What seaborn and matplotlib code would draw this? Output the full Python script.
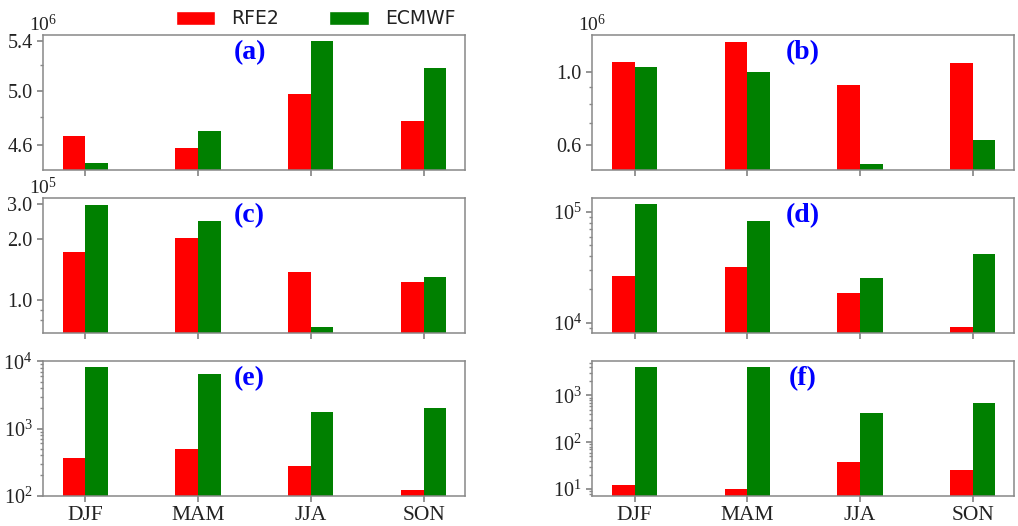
import numpy as np
import pandas as pd
import seaborn as sns
import matplotlib.pyplot as plt
from matplotlib.patches import Patch
from matplotlib.ticker import NullFormatter

# seasons and the two products
seasons = ["DJF", "MAM", "JJA", "SON"]
sources = ["RFE2", "ECMWF"]

# values
rfe2_a = [4.666e6, 4.577e6, 4.977e6, 4.776e6]
ecmwf_a = [4.473e6, 4.702e6, 5.400e6, 5.175e6]
rfe2_b = [1.073e6, 1.237e6, 0.912e6, 1.064e6]
ecmwf_b = [1.039e6, 1.004e6, 0.529e6, 0.624e6]
rfe2_c = [1.743e5, 2.03e5, 1.38e5, 1.227e5]
ecmwf_c = [2.97e5, 2.46e5, 0.74e5, 1.31e5]
rfe2_d = [2.63e4, 3.16e4, 1.86e4, 0.915e4]
ecmwf_d = [1.187e5, 0.835e5, 2.56e4, 4.16e4]
rfe2_e = [361, 503, 275, 123]
ecmwf_e = [8340, 6420, 1750, 2050]
rfe2_f = [12.1, 10.0, 38.5, 25.2]
ecmwf_f = [3960, 4100, 430, 700]

panels = [
    # label, rfe2, ecmwf, ylim, major ticks, tick labels, minor ticks, offset text
    ("(a)", rfe2_a, ecmwf_a, (4.43e6, 5.45e6), [4.6e6, 5.0e6, 5.4e6], ["4.6", "5.0", "5.4"], [4.8e6, 5.2e6], "6"),
    ("(b)", rfe2_b, ecmwf_b, (0.507e6, 1.30e6), [0.6e6, 1.0e6], ["0.6", "1.0"], [0.7e6, 0.8e6, 0.9e6], "6"),
    ("(c)", rfe2_c, ecmwf_c, (0.694e5, 3.21e5), [1e5, 2e5, 3e5], ["1.0", "2.0", "3.0"], [0.8e5, 0.9e5], "5"),
    ("(d)", rfe2_d, ecmwf_d, (0.813e4, 1.345e5), None, None, None, None),
    ("(e)", rfe2_e, ecmwf_e, (1e2, 1.02e4), None, None, None, None),
    ("(f)", rfe2_f, ecmwf_f, (7.2, 5.49e3), None, None, None, None),
]

palette = {"RFE2": "#ff0000", "ECMWF": "#008000"}

sns.set_theme(style="ticks")
plt.rcParams['font.family'] = ['Liberation Serif', 'DejaVu Serif']
plt.rcParams['mathtext.fontset'] = 'custom'
plt.rcParams['mathtext.rm'] = 'Liberation Serif'
plt.rcParams['axes.edgecolor'] = '#888888'
plt.rcParams['axes.linewidth'] = 1.1

fig, axes = plt.subplots(3, 2, figsize=(10.18, 5.26), dpi=100)
plt.subplots_adjust(left=0.0422, right=0.996, top=0.934, bottom=0.0576,
                    wspace=0.3025, hspace=0.209)

for i, (label, rfe2, ecmwf, ylim, major, major_lab, minor, offset) in enumerate(panels):
    ax = axes[i // 2, i % 2]
    df = pd.DataFrame({
        "season": seasons * 2,
        "source": [sources[0]] * 4 + [sources[1]] * 4,
        "value": list(rfe2) + list(ecmwf),
    })
    sns.barplot(data=df, x="season", y="value", hue="source", order=seasons,
                hue_order=sources, palette=palette, width=0.4, ax=ax,
                legend=False, saturation=1, linewidth=0, errorbar=None)
    ax.set_yscale("log")
    ax.set_ylim(*ylim)
    ax.set_xlim(-0.375, 3.365)
    ax.set_xlabel("")
    ax.set_ylabel("")

    if major is not None:
        ax.set_yticks(major, major_lab)
        ax.set_yticks(minor, minor=True)
    ax.yaxis.set_minor_formatter(NullFormatter())

    if offset is not None:
        ax.text(0.0, 1.0, r"$\mathdefault{10^{%s}}$" % offset, transform=ax.transAxes,
                ha="center", va="bottom", fontsize=14, color="#222222")

    ax.tick_params(axis="both", which="both", color="#888888", labelcolor="#222222")
    ax.tick_params(axis="y", which="major", labelsize=14.5, length=4)
    ax.tick_params(axis="y", which="minor", length=2.5)
    ax.tick_params(axis="x", labelsize=15.5, length=4)
    if i < 4:
        ax.set_xticklabels([])

    xpos = 0.49 if i % 2 == 0 else 0.50
    ax.text(xpos, 0.87, label, transform=ax.transAxes, ha="center", va="center",
            fontsize=20, fontweight="bold", color="#0000ff")

handles = [Patch(facecolor=palette[s]) for s in sources]
fig.legend(handles, sources, loc="center", bbox_to_anchor=(0.31, 0.964), ncol=2,
           frameon=False, prop={"family": "DejaVu Sans", "size": 13.5},
           handlelength=2.13, handleheight=0.75, columnspacing=2.67,
           handletextpad=0.85, labelcolor="#222222")

plt.savefig("out.png", dpi=100)
